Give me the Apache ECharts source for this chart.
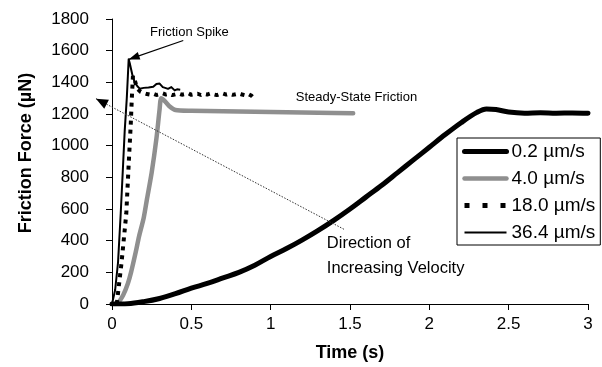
<!DOCTYPE html>
<html>
<head>
<meta charset="utf-8">
<script src="https://cdn.jsdelivr.net/npm/echarts@6/dist/echarts.min.js"></script>
<style>
  html, body { margin: 0; padding: 0; background: #fff; }
  #chart { width: 602px; height: 367px; }
</style>
</head>
<body>
<div id="chart"></div>
<script>
// Friction force vs. time at four sliding velocities
const seriesNames = ['0.2 µm/s', '4.0 µm/s', '18.0 µm/s', '36.4 µm/s'];

const time02 = [0, 0.1, 0.2, 0.3, 0.4, 0.5, 0.6, 0.7, 0.8, 0.9, 1.0, 1.1, 1.2, 1.3, 1.4, 1.5, 1.6, 1.7, 1.8, 1.9, 2.0, 2.1, 2.2, 2.3, 2.36, 2.42, 2.5, 2.6, 2.7, 2.8, 2.9, 3.0];
const force02 = [0, 2, 15, 35, 65, 100, 130, 165, 200, 245, 300, 350, 405, 465, 530, 600, 675, 750, 830, 910, 990, 1070, 1145, 1210, 1232, 1228, 1212, 1205, 1208, 1205, 1207, 1205];

const time40 = [0.02, 0.04, 0.07, 0.1, 0.12, 0.15, 0.17, 0.2, 0.22, 0.25, 0.28, 0.3, 0.31, 0.33, 0.36, 0.4, 0.5, 0.7, 0.9, 1.1, 1.3, 1.52];
const force40 = [0, 10, 55, 130, 200, 330, 425, 545, 660, 830, 1045, 1230, 1300, 1285, 1250, 1225, 1220, 1217, 1214, 1211, 1208, 1205];

const time180 = [0.03, 0.06, 0.09, 0.105, 0.118, 0.125, 0.132, 0.14, 0.15, 0.16, 0.18, 0.2,
  0.22, 0.24, 0.26, 0.28, 0.3, 0.32, 0.34, 0.36, 0.38, 0.4, 0.42, 0.44, 0.46, 0.48, 0.5, 0.52, 0.54,
  0.56, 0.58, 0.6, 0.62, 0.64, 0.66, 0.68, 0.7, 0.72, 0.74, 0.76, 0.78, 0.8, 0.82, 0.84, 0.86, 0.88, 0.9];
const force180 = [0, 260, 570, 880, 1130, 1300, 1440, 1425, 1390, 1360, 1340, 1332,
  1326, 1322, 1328, 1320, 1325, 1330, 1323, 1327, 1319, 1324, 1329, 1322, 1326, 1331, 1321, 1325, 1328,
  1320, 1327, 1323, 1330, 1324, 1319, 1326, 1329, 1322, 1327, 1321, 1325, 1330, 1323, 1318, 1326, 1315, 1295];

const time364 = [0, 0.02, 0.038, 0.055, 0.07, 0.08, 0.093, 0.1, 0.105, 0.112, 0.12, 0.13, 0.143, 0.16, 0.175, 0.2, 0.23, 0.26, 0.28, 0.29, 0.3, 0.32, 0.335, 0.353, 0.374, 0.395, 0.41, 0.43];
const force364 = [0, 90, 262, 573, 883, 1092, 1297, 1440, 1545, 1520, 1484, 1440, 1401, 1375, 1360, 1365, 1368, 1372, 1390, 1401, 1392, 1370, 1365, 1359, 1370, 1349, 1356, 1353];

// Annotation anchors, in axis units (time, force)
const spikeTip = [0.105, 1545];
const spikeTail = [0.449, 1664];
const velocityHead = [-0.101, 1297];
const velocityTail = [1.462, 472];

const pairs = (t, f) => t.map((v, i) => [v, f[i]]);
const FONT = 'Liberation Sans, Arial, sans-serif';

// Line styles shared by the plotted series and their legend entries
const styles = [
  { color: '#000', width: 5, cap: 'round', join: 'round' },
  { color: '#8f8f8f', width: 4.5, cap: 'round', join: 'round' },
  { color: '#000', width: 4, type: [4, 5] },
  { color: '#000', width: 2, join: 'round' }
];
const legendStyles = [
  { color: '#000', width: 5 },
  { color: '#8f8f8f', width: 4.5 },
  { color: '#000', width: 5, type: [5, 13] },
  { color: '#000', width: 2 }
];

const chart = echarts.init(document.getElementById('chart'), null, { renderer: 'canvas' });

const axisCommon = {
  type: 'value',
  axisLine: { show: true, onZero: false, lineStyle: { color: '#000', width: 1 } },
  axisTick: { show: true, inside: false, length: 6, lineStyle: { color: '#000', width: 1 } },
  splitLine: { show: false },
  axisLabel: { color: '#000', fontSize: 17, fontFamily: FONT, formatter: (v) => String(v) }
};

chart.setOption({
  animation: false,
  backgroundColor: '#fff',
  grid: { left: 112, right: 14, top: 19, bottom: 58 },
  xAxis: Object.assign({}, axisCommon, {
    min: 0, max: 3, interval: 0.5,
    axisLabel: Object.assign({}, axisCommon.axisLabel, { margin: 12 }),
    name: 'Time (s)', nameLocation: 'middle', nameGap: 40,
    nameTextStyle: { color: '#000', fontSize: 18, fontWeight: 'bold', fontFamily: FONT }
  }),
  yAxis: Object.assign({}, axisCommon, {
    min: 0, max: 1800, interval: 200,
    axisLabel: Object.assign({}, axisCommon.axisLabel, { margin: 23 })
  }),
  legend: {
    orient: 'vertical',
    left: 457, top: 138,
    padding: [4, 5, 3, 5],
    itemGap: 8,
    itemWidth: 42,
    itemHeight: 14,
    borderColor: '#000',
    borderWidth: 1,
    backgroundColor: '#fff',
    itemStyle: { opacity: 0 },
    textStyle: { color: '#000', fontSize: 19, fontFamily: FONT },
    data: seriesNames.map((n, i) => ({ name: n, lineStyle: legendStyles[i] }))
  },
  series: [
    {
      name: seriesNames[0], type: 'line', data: pairs(time02, force02),
      showSymbol: false, symbol: 'none', z: 4, smooth: 0.35,
      itemStyle: { color: '#000' }, lineStyle: styles[0]
    },
    {
      name: seriesNames[1], type: 'line', data: pairs(time40, force40),
      showSymbol: false, symbol: 'none', z: 3, smooth: 0.25,
      itemStyle: { color: '#8f8f8f' }, lineStyle: styles[1]
    },
    {
      name: seriesNames[2], type: 'line', data: pairs(time180, force180),
      showSymbol: false, symbol: 'none', z: 5,
      itemStyle: { color: '#000' }, lineStyle: styles[2]
    },
    {
      name: seriesNames[3], type: 'line', data: pairs(time364, force364),
      showSymbol: false, symbol: 'none', z: 6,
      itemStyle: { color: '#000' }, lineStyle: styles[3]
    }
  ]
});

// Arrow helpers built from converted axis positions
const px = (p) => chart.convertToPixel({ gridIndex: 0 }, p);

function arrowHead(tip, from, len, half) {
  const dx = tip[0] - from[0], dy = tip[1] - from[1];
  const d = Math.hypot(dx, dy);
  const ux = dx / d, uy = dy / d;
  const bx = tip[0] - ux * len, by = tip[1] - uy * len;
  return [tip, [bx - uy * half, by + ux * half], [bx + uy * half, by - ux * half]];
}

const sTip = px(spikeTip), sTail = px(spikeTail);
const vHead = px(velocityHead), vTail = px(velocityTail);
const fsLabel = px([0.24, 1713]);
const ssLabel = px([1.158, 1304]);
const dirLabel1 = px([1.354, 380]);
const dirLabel2 = px([1.354, 225]);

chart.setOption({
  graphic: [
    {
      type: 'text', silent: true, x: 26, y: 153, rotation: Math.PI / 2,
      style: { text: 'Friction Force (µN)', fill: '#000', font: 'bold 18px ' + FONT, align: 'center', verticalAlign: 'middle' }
    },
    {
      type: 'line', silent: true, z: 20,
      shape: { x1: sTail[0], y1: sTail[1], x2: sTip[0], y2: sTip[1] },
      style: { stroke: '#000', lineWidth: 1.2 }
    },
    {
      type: 'polygon', silent: true, z: 20,
      shape: { points: arrowHead(sTip, sTail, 11, 4) },
      style: { fill: '#000' }
    },
    {
      type: 'line', silent: true, z: 20,
      shape: { x1: vTail[0], y1: vTail[1], x2: vHead[0], y2: vHead[1] },
      style: { stroke: '#333', lineWidth: 1, lineDash: [1.5, 1.5] }
    },
    {
      type: 'polygon', silent: true, z: 20,
      shape: { points: arrowHead(vHead, vTail, 12, 5) },
      style: { fill: '#000' }
    },
    {
      type: 'text', silent: true, z: 20, x: fsLabel[0], y: fsLabel[1],
      style: { text: 'Friction Spike', fill: '#000', font: '13px ' + FONT, align: 'left', verticalAlign: 'middle' }
    },
    {
      type: 'text', silent: true, z: 20, x: ssLabel[0], y: ssLabel[1],
      style: { text: 'Steady-State Friction', fill: '#000', font: '13px ' + FONT, align: 'left', verticalAlign: 'middle' }
    },
    {
      type: 'text', silent: true, z: 20, x: dirLabel1[0], y: dirLabel1[1],
      style: { text: 'Direction of', fill: '#000', font: '16.5px ' + FONT, align: 'left', verticalAlign: 'middle' }
    },
    {
      type: 'text', silent: true, z: 20, x: dirLabel2[0], y: dirLabel2[1],
      style: { text: 'Increasing Velocity', fill: '#000', font: '16.5px ' + FONT, align: 'left', verticalAlign: 'middle' }
    }
  ]
});
</script>
</body>
</html>
